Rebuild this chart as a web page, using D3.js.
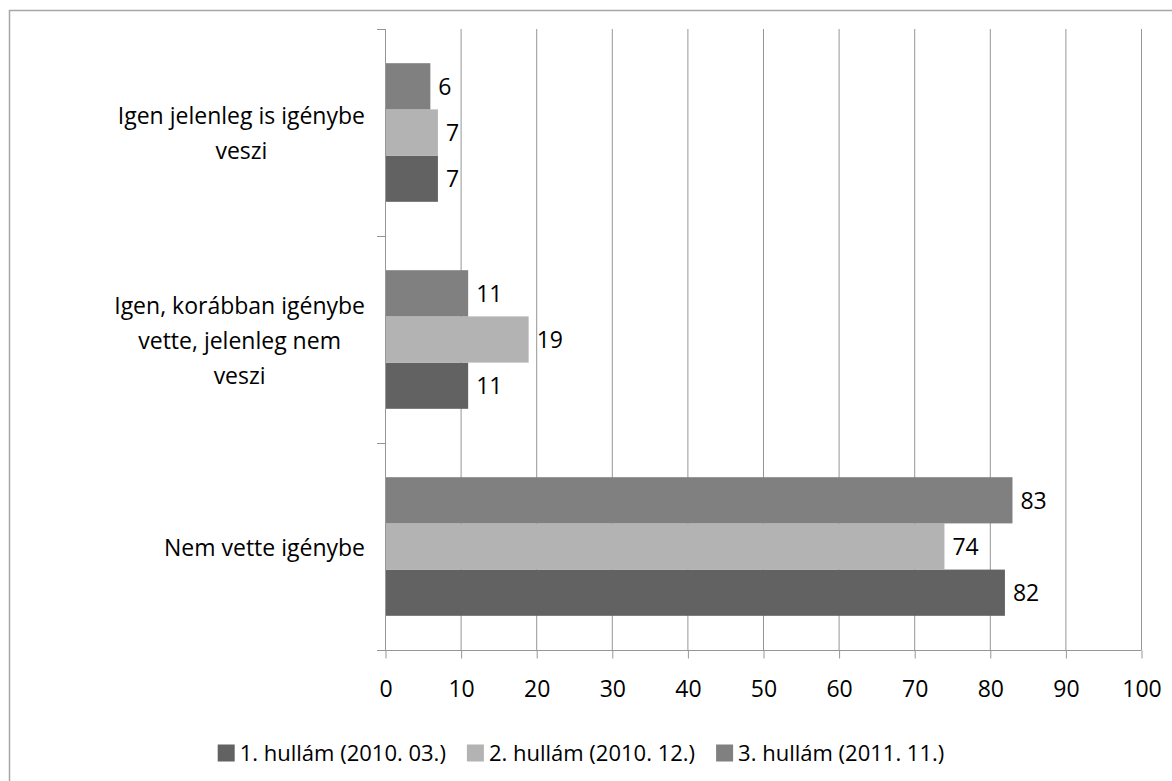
<!DOCTYPE html>
<html>
<head>
<meta charset="utf-8">
<script src="https://cdn.jsdelivr.net/npm/d3@7"></script>
<style>
  html, body { margin: 0; padding: 0; background: #fff; }
  svg { display: block; font-family: "Open Sans", sans-serif; }
</style>
</head>
<body>
<svg id="chart" width="1172" height="781"></svg>
<script>
// Categories (top to bottom)
const categories = [
  ["Igen jelenleg is igénybe", "veszi"],
  ["Igen, korábban igénybe", "vette, jelenleg nem", "veszi"],
  ["Nem vette igénybe"]
];
const seriesNames = [
  "1. hullám (2010. 03.)",
  "2. hullám (2010. 12.)",
  "3. hullám (2011. 11.)"
];
const wave1 = [7, 11, 82];
const wave2 = [7, 19, 74];
const wave3 = [6, 11, 83];
const seriesColors = ["#626262", "#b3b3b3", "#808080"];
const xTicks = [0, 10, 20, 30, 40, 50, 60, 70, 80, 90, 100];

const seriesValues = [wave1, wave2, wave3];
const svg = d3.select("#chart");
const FONT = 23;
const LEGEND_FONT = 22;
const gridColor = "#969696";

// Outer frame
svg.append("rect")
  .attr("x", 9.5).attr("y", 10.5)
  .attr("width", 1200).attr("height", 800)
  .attr("fill", "none").attr("stroke", "#a6a6a6").attr("stroke-width", 1.5);

const plot = { left: 385, right: 1141, top: 29, bottom: 650 };

const x = d3.scaleLinear().domain([0, 100]).range([plot.left, plot.right]);
const catKeys = categories.map((c, i) => i);
const y = d3.scaleBand().domain(catKeys).range([plot.top, plot.bottom]).padding(0);
// Series stacked within a category: 3rd wave on top, 1st wave at the bottom
const ySub = d3.scaleBand().domain([2, 1, 0]).range([0, y.bandwidth()])
  .paddingInner(0).paddingOuter(0.74);

// Vertical gridlines
svg.append("g")
  .selectAll("line")
  .data(xTicks.slice(1))
  .join("line")
  .attr("x1", d => x(d) + 0.5).attr("x2", d => x(d) + 0.5)
  .attr("y1", plot.top).attr("y2", plot.bottom)
  .attr("stroke", gridColor).attr("stroke-width", 1);

// Bars
const groups = svg.append("g")
  .selectAll("g")
  .data(catKeys)
  .join("g")
  .attr("transform", d => `translate(0,${y(d)})`);

groups.selectAll("rect")
  .data(ci => seriesValues.map((vals, si) => ({ si, v: vals[ci] })))
  .join("rect")
  .attr("x", x(0))
  .attr("y", d => ySub(d.si))
  .attr("width", d => x(d.v) - x(0))
  .attr("height", ySub.bandwidth())
  .attr("fill", d => seriesColors[d.si]);

groups.selectAll("text")
  .data(ci => seriesValues.map((vals, si) => ({ si, v: vals[ci] })))
  .join("text")
  .attr("x", d => x(d.v) + 8)
  .attr("y", d => ySub(d.si) + ySub.bandwidth() / 2)
  .attr("dy", "0.36em")
  .attr("font-size", FONT)
  .attr("fill", "#000")
  .text(d => d.v);

// X axis
const xAxis = d3.axisBottom(x).tickValues(xTicks).tickSize(8).tickPadding(22);
const gx = svg.append("g")
  .attr("transform", `translate(0.5,${plot.bottom + 0.5})`)
  .call(xAxis);
gx.select(".domain").attr("stroke", gridColor).attr("d", `M${plot.left - 8 - 0.5},0H${plot.right}`);
gx.selectAll(".tick line").attr("stroke", gridColor);
gx.selectAll(".tick text")
  .attr("font-family", "Open Sans, sans-serif")
  .attr("font-size", FONT).attr("fill", "#000");

// Y axis with ticks at category boundaries
const yEdges = [...catKeys.map(k => y(k)), plot.bottom];
const gy = svg.append("g");
gy.append("line")
  .attr("x1", plot.left + 0.5).attr("x2", plot.left + 0.5)
  .attr("y1", plot.top).attr("y2", plot.bottom)
  .attr("stroke", gridColor);
gy.selectAll("line.tick")
  .data(yEdges)
  .join("line")
  .attr("class", "tick")
  .attr("x1", plot.left - 8).attr("x2", plot.left + 0.5)
  .attr("y1", d => Math.round(d) + 0.5).attr("y2", d => Math.round(d) + 0.5)
  .attr("stroke", gridColor);

// Category labels: centred text blocks, right edge aligned
const labelRight = 365;
const lineH = 35;
categories.forEach((lines, ci) => {
  const g = svg.append("g");
  const texts = lines.map(l => g.append("text")
    .attr("font-size", FONT).attr("fill", "#000").text(l));
  const maxW = d3.max(texts, t => t.node().getComputedTextLength());
  const cx = labelRight - maxW / 2;
  const cy = y(ci) + y.bandwidth() / 2 + 1;
  const startY = cy - (lines.length - 1) * lineH / 2;
  texts.forEach((t, i) => {
    t.attr("x", cx).attr("text-anchor", "middle")
      .attr("y", startY + i * lineH).attr("dy", "0.36em");
  });
});

// Legend, centred under the plot
const legend = svg.append("g");
const sq = 17, sqGap = 5, itemGap = 21;
const items = seriesNames.map((name, i) => {
  const g = legend.append("g");
  g.append("rect").attr("width", sq).attr("height", sq)
    .attr("y", -sq / 2).attr("fill", seriesColors[i]);
  const t = g.append("text").attr("x", sq + sqGap).attr("dy", "0.36em")
    .attr("font-size", LEGEND_FONT).attr("fill", "#000").text(name);
  return { g, w: sq + sqGap + t.node().getComputedTextLength() };
});
const totalW = d3.sum(items, d => d.w) + itemGap * (items.length - 1);
let lx = 581 - totalW / 2;
items.forEach(it => {
  it.g.attr("transform", `translate(${lx},753)`);
  lx += it.w + itemGap;
});
</script>
</body>
</html>
